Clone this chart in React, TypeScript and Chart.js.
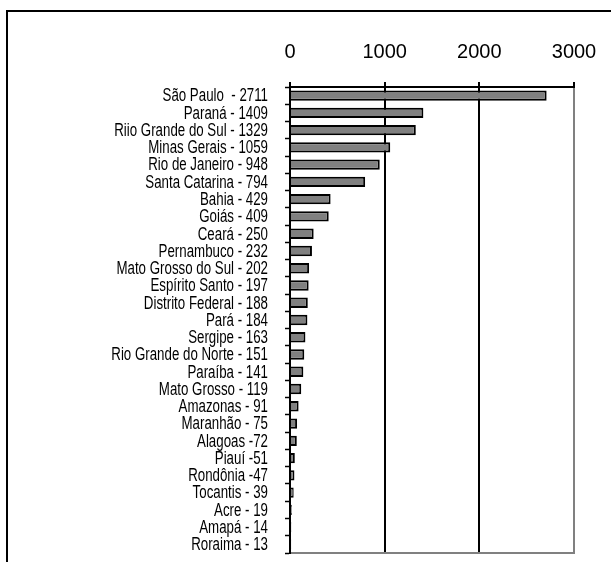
import { useEffect, useRef } from 'react';
import { Chart, registerables } from 'chart.js';

Chart.register(...registerables);

const categories: string[] = [
  'São Paulo  - 2711',
  'Paraná - 1409',
  'Riio Grande do Sul - 1329',
  'Minas Gerais - 1059',
  'Rio de Janeiro - 948',
  'Santa Catarina - 794',
  'Bahia - 429',
  'Goiás - 409',
  'Ceará - 250',
  'Pernambuco - 232',
  'Mato Grosso do Sul - 202',
  'Espírito Santo - 197',
  'Distrito Federal - 188',
  'Pará - 184',
  'Sergipe - 163',
  'Rio Grande do Norte - 151',
  'Paraíba - 141',
  'Mato Grosso - 119',
  'Amazonas - 91',
  'Maranhão - 75',
  'Alagoas -72',
  'Piauí -51',
  'Rondônia -47',
  'Tocantis - 39',
  'Acre - 19',
  'Amapá - 14',
  'Roraima - 13',
];

const values: number[] = [
  2711, 1409, 1329, 1059, 948, 794, 429, 409, 250, 232, 202, 197, 188, 184, 163,
  151, 141, 119, 91, 75, 72, 51, 47, 39, 19, 14, 13,
];

const xTicks: number[] = [0, 1000, 2000, 3000];

export default function App() {
  const ref = useRef<HTMLCanvasElement>(null);

  useEffect(() => {
    if (!ref.current) return;

    const framePlugin = {
      id: 'framePlugin',
      beforeDraw(chart: any) {
        const ctx = chart.ctx;
        ctx.save();
        ctx.strokeStyle = '#000';
        ctx.lineWidth = 2;
        ctx.strokeRect(7, 11, 900, 900);
        ctx.restore();
      },
      afterDraw(chart: any) {
        const ctx = chart.ctx;
        const { left, right, bottom } = chart.chartArea;
        ctx.save();
        ctx.strokeStyle = '#808080';
        ctx.lineWidth = 2;
        ctx.beginPath();
        ctx.moveTo(left + 1, bottom);
        ctx.lineTo(right + 1, bottom);
        ctx.stroke();
        // condensed category labels
        const yScale = chart.scales.y;
        const labels = chart.data.labels as string[];
        ctx.fillStyle = '#000';
        ctx.font = "17.5px 'Liberation Sans', Arial, sans-serif";
        ctx.textAlign = 'right';
        ctx.textBaseline = 'middle';
        const xRight = yScale.right - 22;
        labels.forEach((lab, i) => {
          const y = yScale.getPixelForValue(i);
          ctx.save();
          ctx.translate(xRight, y + 1);
          ctx.scale(0.76, 1);
          ctx.fillText(lab, 0, 0);
          ctx.restore();
        });
        ctx.restore();
      },
    };

    const chart = new Chart(ref.current, {
      type: 'bar',
      data: {
        labels: categories,
        datasets: [
          {
            data: values,
            backgroundColor: '#808080',
            borderColor: '#000',
            borderWidth: 2,
            barPercentage: 0.6,
            categoryPercentage: 1,
          },
        ],
      },
      options: {
        indexAxis: 'y',
        responsive: false,
        animation: false,
        devicePixelRatio: 1,
        layout: { padding: { left: 0, top: 0, right: 37, bottom: 9 } },
        plugins: {
          legend: { display: false },
          tooltip: { enabled: false },
        },
        scales: {
          x: {
            position: 'top',
            min: 0,
            max: 3000,
            afterBuildTicks: (scale: any) => {
              scale.ticks = xTicks.map((v) => ({ value: v }));
            },
            afterFit: (scale: any) => {
              scale.height = 87;
              scale.paddingLeft = 0;
              scale.paddingRight = 0;
            },
            ticks: {
              color: '#000',
              padding: 18,
              callback: (v: any) => String(v),
              font: { family: "'Liberation Sans', Arial, sans-serif", size: 20 },
            },
            grid: {
              color: (c: any) => (c.index === 3 ? '#808080' : c.index === 0 ? 'rgba(0,0,0,0)' : '#000'),
              lineWidth: 2,
              drawTicks: true,
              tickLength: 5,
              tickColor: '#000',
              tickWidth: 2,
            },
            border: { display: true, color: '#000', width: 2 },
          },
          y: {
            type: 'category',
            afterFit: (scale: any) => {
              scale.width = 290;
              scale.paddingTop = 0;
              scale.paddingBottom = 0;
            },
            ticks: {
              display: false,
              autoSkip: false,
            },
            grid: {
              offset: true,
              drawOnChartArea: false,
              drawTicks: true,
              tickLength: 5,
              tickColor: '#000',
              tickWidth: 1.5,
            },
            border: { display: true, color: '#000', width: 2 },
          },
        },
      },
      plugins: [framePlugin],
    } as any);

    return () => chart.destroy();
  }, []);

  return (
    <div style={{ position: 'absolute', left: 0, top: 0, width: 611, height: 562, overflow: 'hidden' }}>
      <canvas ref={ref} width={611} height={562} style={{ width: 611, height: 562, display: 'block' }} />
    </div>
  );
}
